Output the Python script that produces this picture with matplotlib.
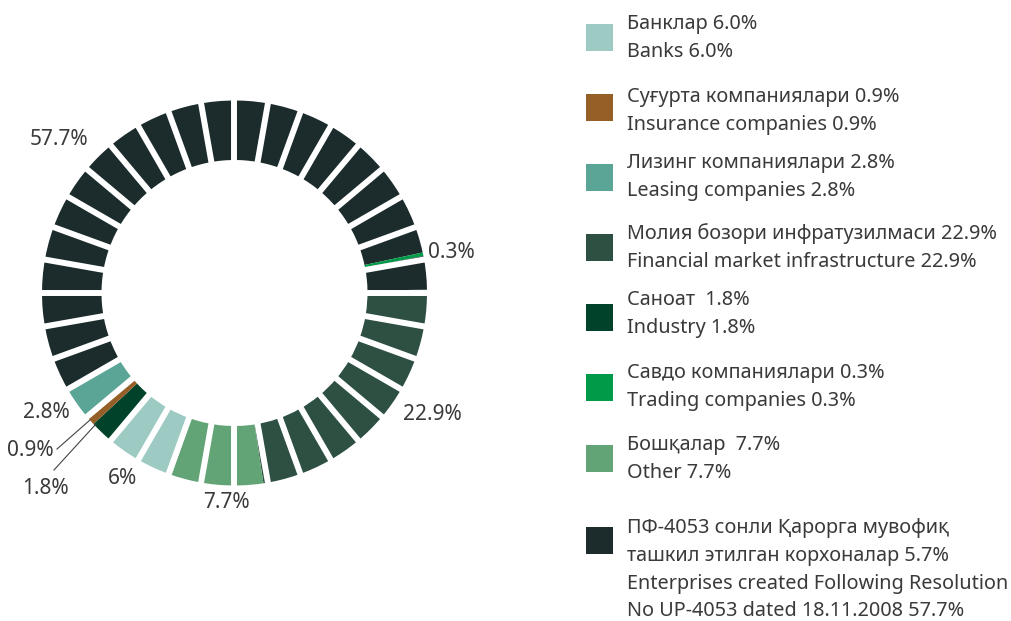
import numpy as np
import matplotlib.pyplot as plt

plt.rcParams['font.family'] = ['Noto Sans', 'DejaVu Sans']

# Sector shares (%)
sectors = ['Banks', 'Insurance', 'Leasing', 'Financial', 'Industry', 'Trading', 'Other', 'Enterprises']
shares = [6.0, 0.9, 2.8, 22.9, 1.8, 0.3, 7.7, 57.7]
colors = ['#9dcbc4', '#955f27', '#5ba596', '#2d5043', '#00432a', '#009a48', '#62a476', '#1c2b2c']

legend_uz = ['Банклар 6.0%', 'Суғурта компаниялари 0.9%', 'Лизинг компаниялари 2.8%',
             'Молия бозори инфратузилмаси 22.9%', 'Саноат  1.8%', 'Савдо компаниялари 0.3%',
             'Бошқалар  7.7%', 'ПФ-4053 сонли Қарорга мувофиқ\nташкил этилган корхоналар 5.7%']
legend_en = ['Banks 6.0%', 'Insurance companies 0.9%', 'Leasing companies 2.8%',
             'Financial market infrastructure 22.9%', 'Industry 1.8%', 'Trading companies 0.3%',
             'Other 7.7%', 'Enterprises created Following Resolution\nNo UP-4053 dated 18.11.2008 57.7%']

# order of sectors around the ring (clockwise from 3 o'clock);
# the enterprises block wraps past the trading stripe
ring_order = ['Financial', 'Other', 'Banks', 'Industry', 'Insurance', 'Leasing', 'Enterprises', 'Trading', 'Enterprises']
ent_tail = 2.8  # part of enterprises share lying after the trading stripe

W, H = 1012, 621
fig = plt.figure(figsize=(W / 100, H / 100), dpi=100)
ax = fig.add_axes([0, 0, 1, 1])

cx, cy = 234.5, H - 293
r_out, r_in = 192.5, 133

vals, cols = [], []
seen = set()
for name in ring_order:
    i = sectors.index(name)
    v = shares[i]
    if name == 'Enterprises':
        v = ent_tail if name in seen else shares[i] - ent_tail
    seen.add(name)
    vals.append(v)
    cols.append(colors[i])

ax.pie(vals, colors=cols, startangle=1.0, counterclock=False, radius=r_out,
       center=(cx, cy), wedgeprops=dict(width=r_out - r_in, linewidth=0))

# white gaps every 10 degrees
for a in np.arange(0, 360, 10):
    t = np.deg2rad(a)
    ax.plot([cx + (r_in - 3) * np.cos(t), cx + (r_out + 3) * np.cos(t)],
            [cy + (r_in - 3) * np.sin(t), cy + (r_out + 3) * np.sin(t)],
            color='white', lw=4.3, solid_capstyle='butt')

ax.set_xlim(0, W)
ax.set_ylim(0, H)
ax.set_aspect('equal')
ax.axis('off')

tc = '#3a3a3a'
fs = 15
# ring labels
ax.text(30, H - 139, '57.7%', color=tc, fontsize=fs, va='center', ha='left')
ax.text(428, H - 252, '0.3%', color=tc, fontsize=fs, va='center', ha='left')
ax.text(403, H - 414, '22.9%', color=tc, fontsize=fs, va='center', ha='left')
ax.text(226, H - 502, '7.7%', color=tc, fontsize=fs, va='center', ha='center')
ax.text(123, H - 478, '6%', color=tc, fontsize=fs, va='center', ha='center')
ax.text(23, H - 413, '2.8%', color=tc, fontsize=fs, va='center', ha='left')
ax.text(7, H - 450, '0.9%', color=tc, fontsize=fs, va='center', ha='left')
ax.text(22, H - 488, '1.8%', color=tc, fontsize=fs, va='center', ha='left')
ax.plot([57, 90], [H - 449, H - 420], color='#444444', lw=0.8)
ax.plot([54, 96], [H - 470, H - 424], color='#444444', lw=0.8)

# legend
lfs = 14.3
sq_y = [37, 107, 177, 247, 317, 387, 458, 540]
line_y = [24, 97, 163, 234, 300, 373, 445, 528]
for i in range(len(sectors)):
    ax.add_patch(plt.Rectangle((586, H - sq_y[i] - 13.5), 27, 27, color=colors[i], lw=0))
    lines = legend_uz[i].split('\n') + legend_en[i].split('\n')
    for j, s in enumerate(lines):
        ax.text(627, H - line_y[i] - 27.8 * j, s, color=tc, fontsize=lfs, va='center', ha='left')

fig.savefig('out.png', dpi=100)
